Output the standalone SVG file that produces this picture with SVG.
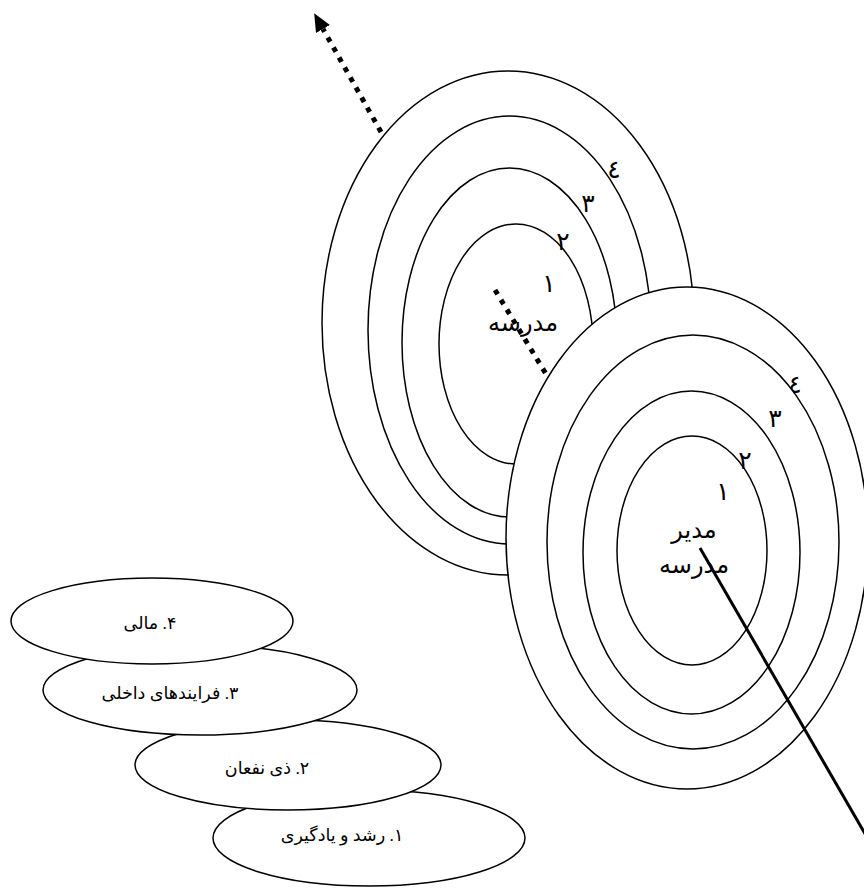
<svg xmlns="http://www.w3.org/2000/svg" width="864" height="890" viewBox="0 0 864 890">
<defs>
<style>
.ring{fill:#fff;stroke:#000;stroke-width:1.5}
.num{font-family:"DejaVu Sans",sans-serif;font-size:25px;fill:#000;text-anchor:middle}
.name{font-family:"DejaVu Sans",sans-serif;font-size:24px;fill:#000;text-anchor:middle;direction:rtl}
.pill{fill:#fff;stroke:#000;stroke-width:1.5}
.lbl{font-family:"Liberation Serif","DejaVu Sans",serif;font-size:17.5px;fill:#000;text-anchor:middle;direction:rtl}
.dots{fill:none;stroke:#000;stroke-width:5;stroke-dasharray:5 6.5}
</style>
<marker id="ah" markerUnits="userSpaceOnUse" markerWidth="20" markerHeight="20" viewBox="0 0 20 20" refX="0" refY="8" orient="auto"><path d="M0,0 L18,8 L0,16 z" fill="#000"/></marker>
</defs>
<rect width="864" height="890" fill="#fff"/>
<g id="school">
<ellipse class="ring" cx="508" cy="323" rx="186" ry="252"/>
<ellipse class="ring" cx="509.5" cy="330" rx="141.5" ry="214"/>
<ellipse class="ring" cx="509.5" cy="342.5" rx="107.5" ry="174.5"/>
<ellipse class="ring" cx="516" cy="344" rx="77" ry="120"/>
<text class="num" x="614" y="178">٤</text>
<text class="num" x="588" y="212">٣</text>
<text class="num" x="563" y="250">٢</text>
<text class="num" x="549" y="292">١</text>
<text class="name" x="523" y="331">مدرسه</text>
</g>
<g id="principal">
<ellipse class="ring" cx="687" cy="538" rx="181" ry="251"/>
<text class="num" x="795" y="393">٤</text>
<ellipse class="ring" cx="693" cy="542" rx="146" ry="207"/>
<ellipse class="ring" cx="691.5" cy="552.5" rx="108.5" ry="161.5"/>
<ellipse class="ring" cx="692" cy="550.5" rx="75" ry="114.5"/>
<text class="num" x="775" y="427">٣</text>
<text class="num" x="745" y="469">٢</text>
<text class="num" x="723" y="500">١</text>
<text class="name" x="694" y="538">مدیر</text>
<text class="name" x="694" y="573">مدرسه</text>
</g>
<g id="p1">
<ellipse class="pill" cx="369" cy="838" rx="156" ry="48"/>
<text class="lbl" x="342" y="841">۱. رشد و یادگیری</text>
</g>
<g id="p2">
<ellipse class="pill" cx="288" cy="765" rx="153" ry="45"/>
<text class="lbl" x="267" y="774">۲. ذی نفعان</text>
</g>
<g id="p3">
<ellipse class="pill" cx="200" cy="690" rx="157" ry="45"/>
<text class="lbl" x="170" y="699">۳. فرایندهای داخلی</text>
</g>
<g id="p4">
<ellipse class="pill" cx="152" cy="621" rx="141" ry="43"/>
<text class="lbl" x="150" y="629">۴. مالی</text>
</g>
<g id="connectors">
<line class="dots" x1="381" y1="132" x2="323" y2="29" marker-end="url(#ah)"/>
<line class="dots" x1="495" y1="290" x2="546" y2="374"/>
<line x1="700" y1="548" x2="868" y2="839" stroke="#000" stroke-width="3"/>
</g>
</svg>
